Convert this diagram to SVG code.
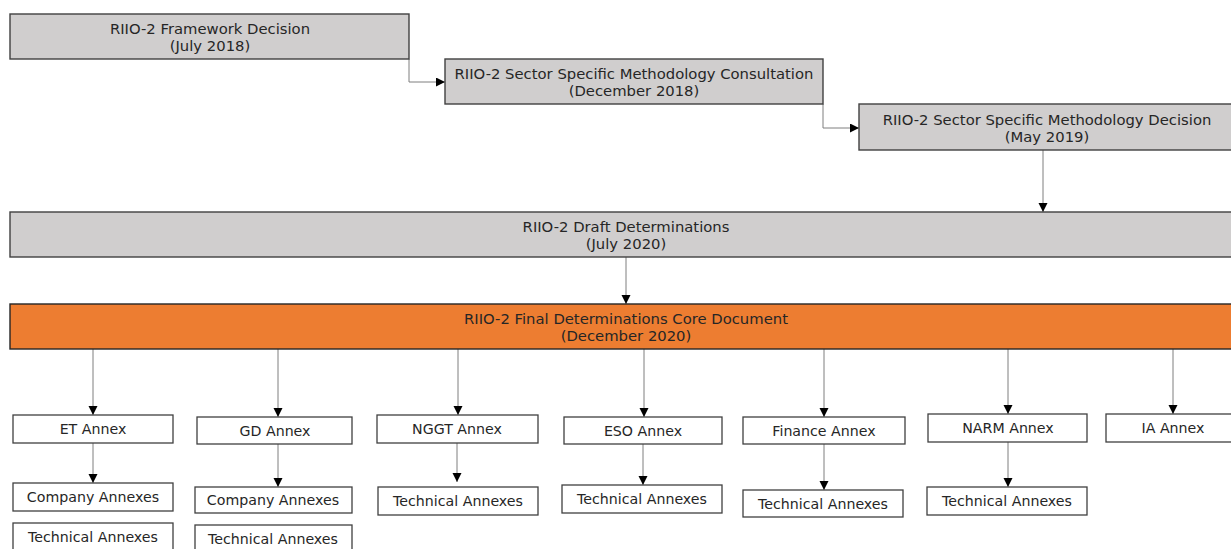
<svg xmlns="http://www.w3.org/2000/svg" width="1231" height="549" viewBox="0 0 1231 549">
<style>
text{font-family:"DejaVu Sans","Liberation Sans",sans-serif;fill:#262626;text-anchor:middle}
.h{font-size:14.8px}
.a{font-size:14.2px}
.g{fill:#d0cece;stroke:#404040;stroke-width:1.4}
.o{fill:#ed7d31;stroke:#262626;stroke-width:1.4}
.w{fill:#ffffff;stroke:#404040;stroke-width:1.3}
.c{fill:none;stroke:#7f7f7f;stroke-width:1}
</style>
<defs>
<marker id="ah" markerUnits="userSpaceOnUse" markerWidth="10" markerHeight="10" refX="9" refY="4.5" orient="auto">
<path d="M0,0 L9,4.5 L0,9 Z" fill="#000"/>
</marker>
</defs>
<g id="connectors">
<path class="c" d="M409,59 V82 H445" marker-end="url(#ah)"/>
<path class="c" d="M823,104 V128 H859" marker-end="url(#ah)"/>
<path class="c" d="M1043,150 V212" marker-end="url(#ah)"/>
<path class="c" d="M626,257 V304" marker-end="url(#ah)"/>
<path class="c" d="M93,349 V415" marker-end="url(#ah)"/>
<path class="c" d="M278,349 V417" marker-end="url(#ah)"/>
<path class="c" d="M458,349 V415" marker-end="url(#ah)"/>
<path class="c" d="M644,349 V417" marker-end="url(#ah)"/>
<path class="c" d="M824,349 V417" marker-end="url(#ah)"/>
<path class="c" d="M1008,349 V414" marker-end="url(#ah)"/>
<path class="c" d="M1173,349 V414" marker-end="url(#ah)"/>
<path class="c" d="M93,443 V483" marker-end="url(#ah)"/>
<path class="c" d="M278,444 V487" marker-end="url(#ah)"/>
<path class="c" d="M457,443 V482" marker-end="url(#ah)"/>
<path class="c" d="M643,444 V485" marker-end="url(#ah)"/>
<path class="c" d="M824,444 V490" marker-end="url(#ah)"/>
<path class="c" d="M1008,442 V487" marker-end="url(#ah)"/>
</g>
<g id="framework">
<rect class="g" x="10" y="14" width="399" height="45"/>
<text class="h" x="210" y="34">RIIO-2 Framework Decision</text>
<text class="h" x="210" y="51">(July 2018)</text>
</g>
<g id="ssmc">
<rect class="g" x="445" y="59" width="378" height="45"/>
<text class="h" x="634" y="79">RIIO-2 Sector Specific Methodology Consultation</text>
<text class="h" x="634" y="96">(December 2018)</text>
</g>
<g id="ssmd">
<rect class="g" x="859" y="104" width="378" height="46"/>
<text class="h" x="1047" y="125">RIIO-2 Sector Specific Methodology Decision</text>
<text class="h" x="1047" y="142">(May 2019)</text>
</g>
<g id="draft">
<rect class="g" x="10" y="212" width="1232" height="45"/>
<text class="h" x="626" y="232">RIIO-2 Draft Determinations</text>
<text class="h" x="626" y="249">(July 2020)</text>
</g>
<g id="final">
<rect class="o" x="10" y="304" width="1231" height="45"/>
<text class="h" x="626" y="324">RIIO-2 Final Determinations Core Document</text>
<text class="h" x="626" y="341">(December 2020)</text>
</g>
<g id="et-annex">
<rect class="w" x="13" y="415" width="160" height="28"/>
<text class="a" x="93" y="434">ET Annex</text>
</g>
<g id="et-company">
<rect class="w" x="13" y="483" width="160" height="28"/>
<text class="a" x="93" y="502">Company Annexes</text>
</g>
<g id="et-technical">
<rect class="w" x="13" y="523" width="160" height="28"/>
<text class="a" x="93" y="542">Technical Annexes</text>
</g>
<g id="gd-annex">
<rect class="w" x="197" y="417" width="155" height="27"/>
<text class="a" x="275" y="436">GD Annex</text>
</g>
<g id="gd-company">
<rect class="w" x="195" y="487" width="157" height="26"/>
<text class="a" x="273" y="505">Company Annexes</text>
</g>
<g id="gd-technical">
<rect class="w" x="195" y="525" width="157" height="28"/>
<text class="a" x="273" y="544">Technical Annexes</text>
</g>
<g id="nggt-annex">
<rect class="w" x="377" y="415" width="161" height="28"/>
<text class="a" x="457" y="434">NGGT Annex</text>
</g>
<g id="nggt-technical">
<rect class="w" x="378" y="487" width="160" height="28"/>
<text class="a" x="458" y="506">Technical Annexes</text>
</g>
<g id="eso-annex">
<rect class="w" x="564" y="417" width="158" height="27"/>
<text class="a" x="643" y="436">ESO Annex</text>
</g>
<g id="eso-technical">
<rect class="w" x="562" y="485" width="160" height="28"/>
<text class="a" x="642" y="504">Technical Annexes</text>
</g>
<g id="finance-annex">
<rect class="w" x="743" y="417" width="162" height="27"/>
<text class="a" x="824" y="436">Finance Annex</text>
</g>
<g id="finance-technical">
<rect class="w" x="743" y="490" width="160" height="27"/>
<text class="a" x="823" y="509">Technical Annexes</text>
</g>
<g id="narm-annex">
<rect class="w" x="928" y="414" width="159" height="28"/>
<text class="a" x="1008" y="433">NARM Annex</text>
</g>
<g id="narm-technical">
<rect class="w" x="927" y="487" width="160" height="28"/>
<text class="a" x="1007" y="506">Technical Annexes</text>
</g>
<g id="ia-annex">
<rect class="w" x="1106" y="414" width="134" height="28"/>
<text class="a" x="1173" y="433">IA Annex</text>
</g>
</svg>
